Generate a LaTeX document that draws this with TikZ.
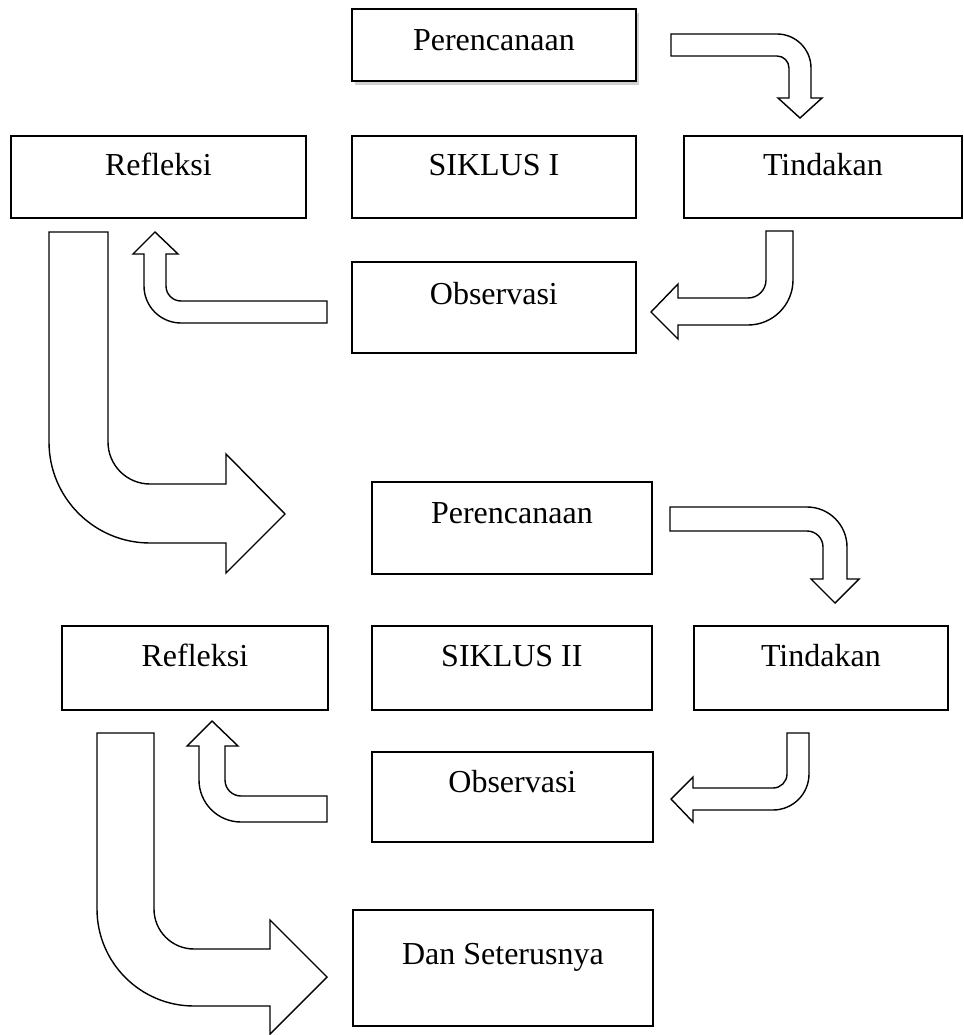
\documentclass[tikz,border=0pt]{standalone}
\usepackage{fontspec}
\setmainfont{Liberation Serif}
\usetikzlibrary{shadows}

\begin{document}
\begin{tikzpicture}[x=1pt,y=-1pt,
    kotak/.style={draw,line width=1.8pt,inner sep=0pt,anchor=north west,font=\fontsize{32}{37}\selectfont},
    panah/.style={draw,line width=1.4pt,line join=miter,fill=white}]
        \useasboundingbox (0,0) rectangle (963,1035);

        \node[kotak,minimum width=284pt,text height=42pt,text depth=30pt,
              drop shadow={shadow xshift=3pt,shadow yshift=-4pt,fill=black!40,opacity=0.45},fill=white]
              (p1) at (351,8) {Perencanaan};
        \node[kotak,minimum width=295pt,text height=40pt,text depth=42pt] (r1) at (10,135) {Refleksi};
        \node[kotak,minimum width=284pt,text height=40pt,text depth=42pt] (s1) at (351,135) {SIKLUS I};
        \node[kotak,minimum width=278pt,text height=40pt,text depth=42pt] (t1) at (683,135) {Tindakan};
        \node[kotak,minimum width=284pt,text height=43pt,text depth=48pt] (o1) at (351,261) {Observasi};

        \node[kotak,minimum width=280pt,text height=42pt,text depth=50pt] (p2) at (371,481) {Perencanaan};
        \node[kotak,minimum width=266pt,text height=41pt,text depth=43pt] (r2) at (61,625) {Refleksi};
        \node[kotak,minimum width=280pt,text height=41pt,text depth=43pt] (s2) at (371,625) {SIKLUS II};
        \node[kotak,minimum width=254pt,text height=41pt,text depth=43pt] (t2) at (693,625) {Tindakan};
        \node[kotak,minimum width=281pt,text height=41pt,text depth=49pt] (o2) at (371,751) {Observasi};
        \node[kotak,minimum width=300pt,text height=55pt,text depth=61pt] (dst) at (352,909) {Dan Seterusnya};

        \draw[panah] (671,34) -- (777,34) arc[start angle=-90,end angle=0,radius=34] -- (811,98) -- (822,98)
            -- (800,118) -- (778,98) -- (789,98) -- (789,68) arc[start angle=0,end angle=-90,radius=12] -- (671,56) -- cycle;
        \draw[panah] (766,231) -- (793,231) -- (793,280) arc[start angle=0,end angle=90,radius=45] -- (678,325) -- (678,339)
            -- (651,312) -- (678,284) -- (678,298) -- (748,298) arc[start angle=90,end angle=0,radius=18] -- cycle;
        \draw[panah] (327,301) -- (181,301) arc[start angle=90,end angle=180,radius=15] -- (166,254) -- (178,254)
            -- (155,232) -- (133,254) -- (144,254) -- (144,286) arc[start angle=180,end angle=90,radius=37] -- (327,323) -- cycle;
        \draw[panah] (49,232) -- (108,232) -- (108,442) arc[start angle=180,end angle=90,radius=42] -- (226,484) -- (226,454)
            -- (285,514) -- (226,573) -- (226,543) -- (150,543) arc[start angle=90,end angle=180,radius=101] -- cycle;

        \draw[panah] (670,507) -- (807,507) arc[start angle=-90,end angle=0,radius=40] -- (847,579) -- (859,579)
            -- (835,603) -- (811,579) -- (823,579) -- (823,547) arc[start angle=0,end angle=-90,radius=16] -- (670,531) -- cycle;
        \draw[panah] (787,733) -- (809,733) -- (809,774) arc[start angle=0,end angle=90,radius=36] -- (693,810) -- (693,822)
            -- (671,799) -- (693,777) -- (693,788) -- (773,788) arc[start angle=90,end angle=0,radius=14] -- cycle;
        \draw[panah] (327,796) -- (241,796) arc[start angle=90,end angle=180,radius=16] -- (225,746) -- (238,746)
            -- (212,721) -- (187,746) -- (199,746) -- (199,780) arc[start angle=180,end angle=90,radius=42] -- (327,822) -- cycle;
        \draw[panah] (97,733) -- (154,733) -- (154,909) arc[start angle=180,end angle=90,radius=40] -- (270,949) -- (270,920)
            -- (327,977) -- (270,1034) -- (270,1006) -- (194,1006) arc[start angle=90,end angle=180,radius=97] -- cycle;
\end{tikzpicture}
\end{document}
